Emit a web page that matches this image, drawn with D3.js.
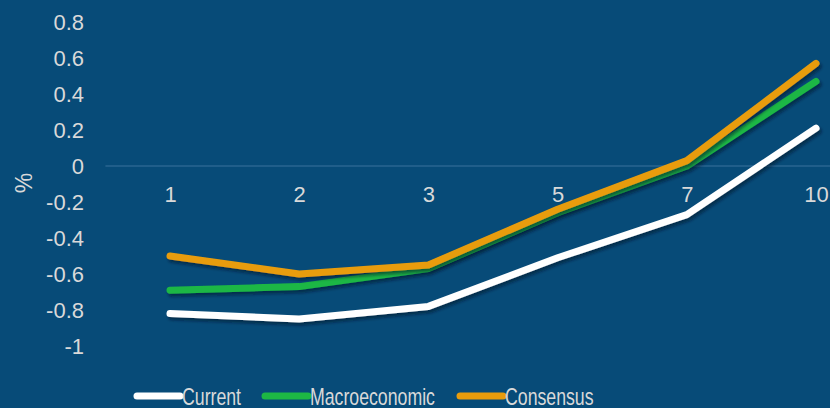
<!DOCTYPE html>
<html>
<head>
<meta charset="utf-8">
<script src="https://cdn.jsdelivr.net/npm/d3@7/dist/d3.min.js"></script>
<style>
  html, body { margin: 0; padding: 0; background: #074b78; }
  svg { display: block; }
  text { font-family: "Liberation Sans", Arial, sans-serif; fill: #d9d9d9; }
</style>
</head>
<body>
<svg id="chart" width="830" height="408"></svg>
<script>
// Maturities (years) along the x axis
const categories = ["1", "2", "3", "5", "7", "10"];

// Yield curves, in %
const current       = [-0.82, -0.85, -0.78, -0.51, -0.27, 0.21];
const macroeconomic = [-0.69, -0.67, -0.57, -0.26, 0.00, 0.47];
const consensus     = [-0.50, -0.60, -0.55, -0.24, 0.03, 0.57];

const yTicks = [0.8, 0.6, 0.4, 0.2, 0, -0.2, -0.4, -0.6, -0.8, -1];

const series = [
  { name: "Current",       values: current,       color: "#ffffff" },
  { name: "Macroeconomic", values: macroeconomic, color: "#1db744" },
  { name: "Consensus",     values: consensus,     color: "#e89c0c" }
];

const W = 830, H = 408;
const svg = d3.select("#chart");

const defs = svg.append("defs");
const shadow = defs.append("filter").attr("id", "lineShadow")
  .attr("x", "-10%").attr("y", "-10%").attr("width", "120%").attr("height", "130%");
shadow.append("feDropShadow")
  .attr("dx", 2).attr("dy", 3).attr("stdDeviation", 1.6)
  .attr("flood-color", "#001428").attr("flood-opacity", 0.55);

const x = d3.scalePoint().domain(categories).range([170, 816]);
const y = d3.scaleLinear().domain([-1, 0.8]).range([346, 22]);
const step = x.step();

// Zero baseline
svg.append("line")
  .attr("x1", x(categories[0]) - step / 2).attr("x2", W + 60)
  .attr("y1", y(0)).attr("y2", y(0))
  .attr("stroke", "#3a729b").attr("stroke-width", 1.2);

// Value axis labels (plain hyphen for negatives)
const yAxis = d3.axisLeft(y).tickValues(yTicks).tickSize(0).tickPadding(0)
  .tickFormat(d => String(+d.toFixed(1)));
const yg = svg.append("g").attr("transform", "translate(84,0)").call(yAxis);
yg.select(".domain").remove();
yg.selectAll("text")
  .style("font-size", "22px")
  .style("font-family", "'Liberation Sans', Arial, sans-serif")
  .attr("fill", "#dcdcdc");

// Category labels, sitting just under the zero line
const xAxis = d3.axisBottom(x).tickSize(0).tickPadding(0);
const xg = svg.append("g").attr("transform", `translate(0,${y(0) + 36})`).call(xAxis);
xg.select(".domain").remove();
xg.selectAll("text")
  .attr("dy", "0")
  .style("font-size", "22px")
  .style("font-family", "'Liberation Sans', Arial, sans-serif")
  .attr("fill", "#dcdcdc");

// Unit label
svg.append("text")
  .attr("transform", "translate(32,183) rotate(-90)")
  .attr("text-anchor", "middle")
  .style("font-size", "23px")
  .text("%");

// Curves
const line = d3.line()
  .x((d, i) => x(categories[i]))
  .y(d => y(d));

svg.append("g").selectAll("path")
  .data(series)
  .join("path")
  .attr("d", d => line(d.values))
  .attr("fill", "none")
  .attr("stroke", d => d.color)
  .attr("stroke-width", 7)
  .attr("stroke-linecap", "round")
  .attr("stroke-linejoin", "round")
  .attr("filter", "url(#lineShadow)");

// Legend
const legendX = [137, 265, 460];
const legend = svg.append("g").selectAll("g")
  .data(series)
  .join("g")
  .attr("transform", (d, i) => `translate(${legendX[i]},396)`);
legend.append("line")
  .attr("x1", 0).attr("x2", 43).attr("y1", 0).attr("y2", 0)
  .attr("stroke", d => d.color)
  .attr("stroke-width", 7)
  .attr("stroke-linecap", "round");
legend.append("text")
  .attr("transform", "translate(45,8.5) scale(0.77,1)")
  .style("font-size", "23px")
  .text(d => d.name);
</script>
</body>
</html>
